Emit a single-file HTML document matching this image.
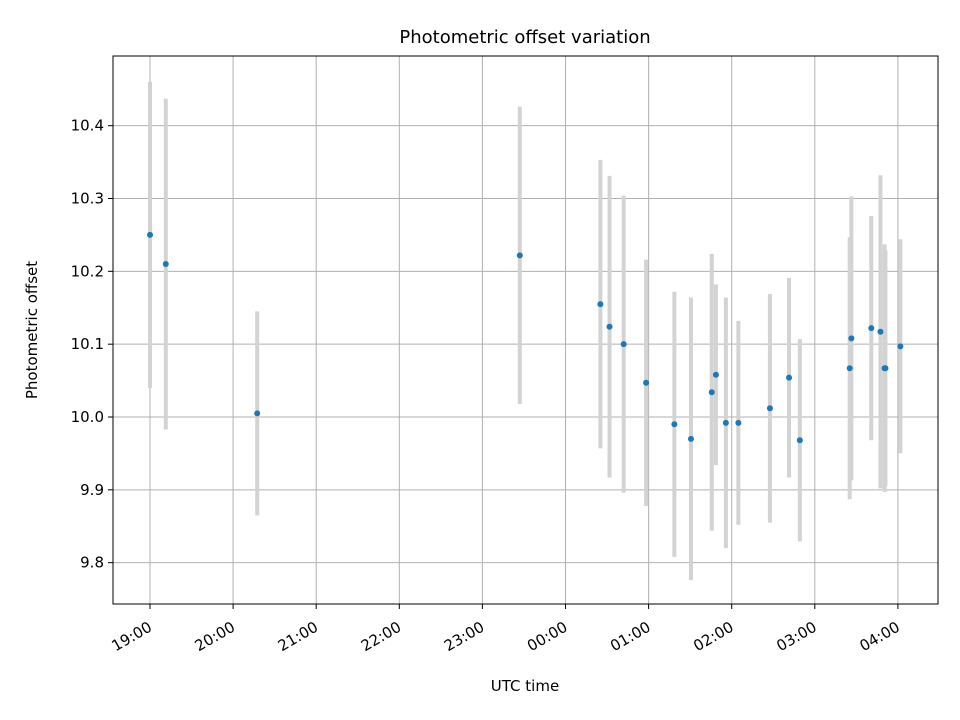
<!DOCTYPE html>
<html><head><meta charset="utf-8"><style>
body{margin:0;background:#fff;}
svg{display:block;font-family:"DejaVu Sans","Liberation Sans",sans-serif;}
</style></head><body>
<svg id="chart" width="960" height="720" viewBox="0 0 960 720">
<rect x="0" y="0" width="960" height="720" fill="#fff"/>
<g id="grid"></g>
<g id="errs"></g>
<g id="pts"></g>
<rect x="113" y="56" width="825" height="548" fill="none" stroke="#000" stroke-width="1"/>
<g id="xt"></g>
<g id="yt"></g>
<text x="525" y="43" text-anchor="middle" font-size="18">Photometric offset variation</text>
<text x="525" y="691" text-anchor="middle" font-size="15">UTC time</text>
<text transform="translate(37,330) rotate(-90)" text-anchor="middle" font-size="15">Photometric offset</text>
</svg>
<script>
// hours since 19:00 UTC
const times=[0,0.19,1.29,4.45,5.42,5.53,5.70,5.97,6.31,6.51,6.76,6.81,6.93,7.08,7.46,7.69,7.82,8.42,8.44,8.68,8.79,8.84,8.85,9.03];
const values=[10.25,10.21,10.005,10.222,10.155,10.124,10.100,10.047,9.990,9.970,10.034,10.058,9.992,9.992,10.012,10.054,9.968,10.067,10.108,10.122,10.117,10.067,10.067,10.097];
const errors=[0.21,0.227,0.14,0.204,0.198,0.207,0.204,0.169,0.182,0.194,0.19,0.124,0.172,0.14,0.157,0.137,0.139,0.18,0.195,0.154,0.215,0.17,0.162,0.147];
const xTickHours=[0,1,2,3,4,5,6,7,8,9];
const xTickLabels=["19:00","20:00","21:00","22:00","23:00","00:00","01:00","02:00","03:00","04:00"];
const yTicks=[9.8,9.9,10.0,10.1,10.2,10.3,10.4];
const yTickLabels=["9.8","9.9","10.0","10.1","10.2","10.3","10.4"];

const X=t=>150+t*83.1;
const Y=v=>417-(v-10)*728.3;
const NS="http://www.w3.org/2000/svg";
function mk(tag,attrs,parent){const e=document.createElementNS(NS,tag);for(const k in attrs)e.setAttribute(k,attrs[k]);parent.appendChild(e);return e;}
const grid=document.getElementById('grid'),xt=document.getElementById('xt'),yt=document.getElementById('yt');
xTickHours.forEach((h,i)=>{
  const x=X(h);
  const g=mk('line',{x1:x,x2:x,y1:56,y2:604,stroke:'#b0b0b0','stroke-width':1},grid);
  
  
  const t=mk('line',{x1:x,x2:x,y1:604,y2:609,stroke:'#000'},xt);
  
  
  const l=mk('text',{transform:`translate(${x+3},${630}) rotate(-30)`,'text-anchor':'end','font-size':15},xt);
  l.textContent=xTickLabels[i];
  
  
});
yTicks.forEach((v,i)=>{
  const y=Y(v);
  const g=mk('line',{x1:113,x2:938,y1:y,y2:y,stroke:'#b0b0b0','stroke-width':1},grid);
  
  
  const t=mk('line',{x1:108,x2:113,y1:y,y2:y,stroke:'#000'},yt);
  
  
  const l=mk('text',{x:104,y:y+5,'text-anchor':'end','font-size':15},yt);
  l.textContent=yTickLabels[i];
  
  
});
const errs=document.getElementById('errs'),pts=document.getElementById('pts');
times.forEach((t,i)=>{
  const x=X(t);
  const e=mk('line',{x1:x,x2:x,y1:Y(values[i]+errors[i]),y2:Y(values[i]-errors[i]),stroke:'#d3d3d3','stroke-width':4},errs);
  
  
  const c=mk('circle',{cx:x,cy:Y(values[i]),r:3,fill:'#1f77b4'},pts);
  
  
});
</script>
</body></html>
